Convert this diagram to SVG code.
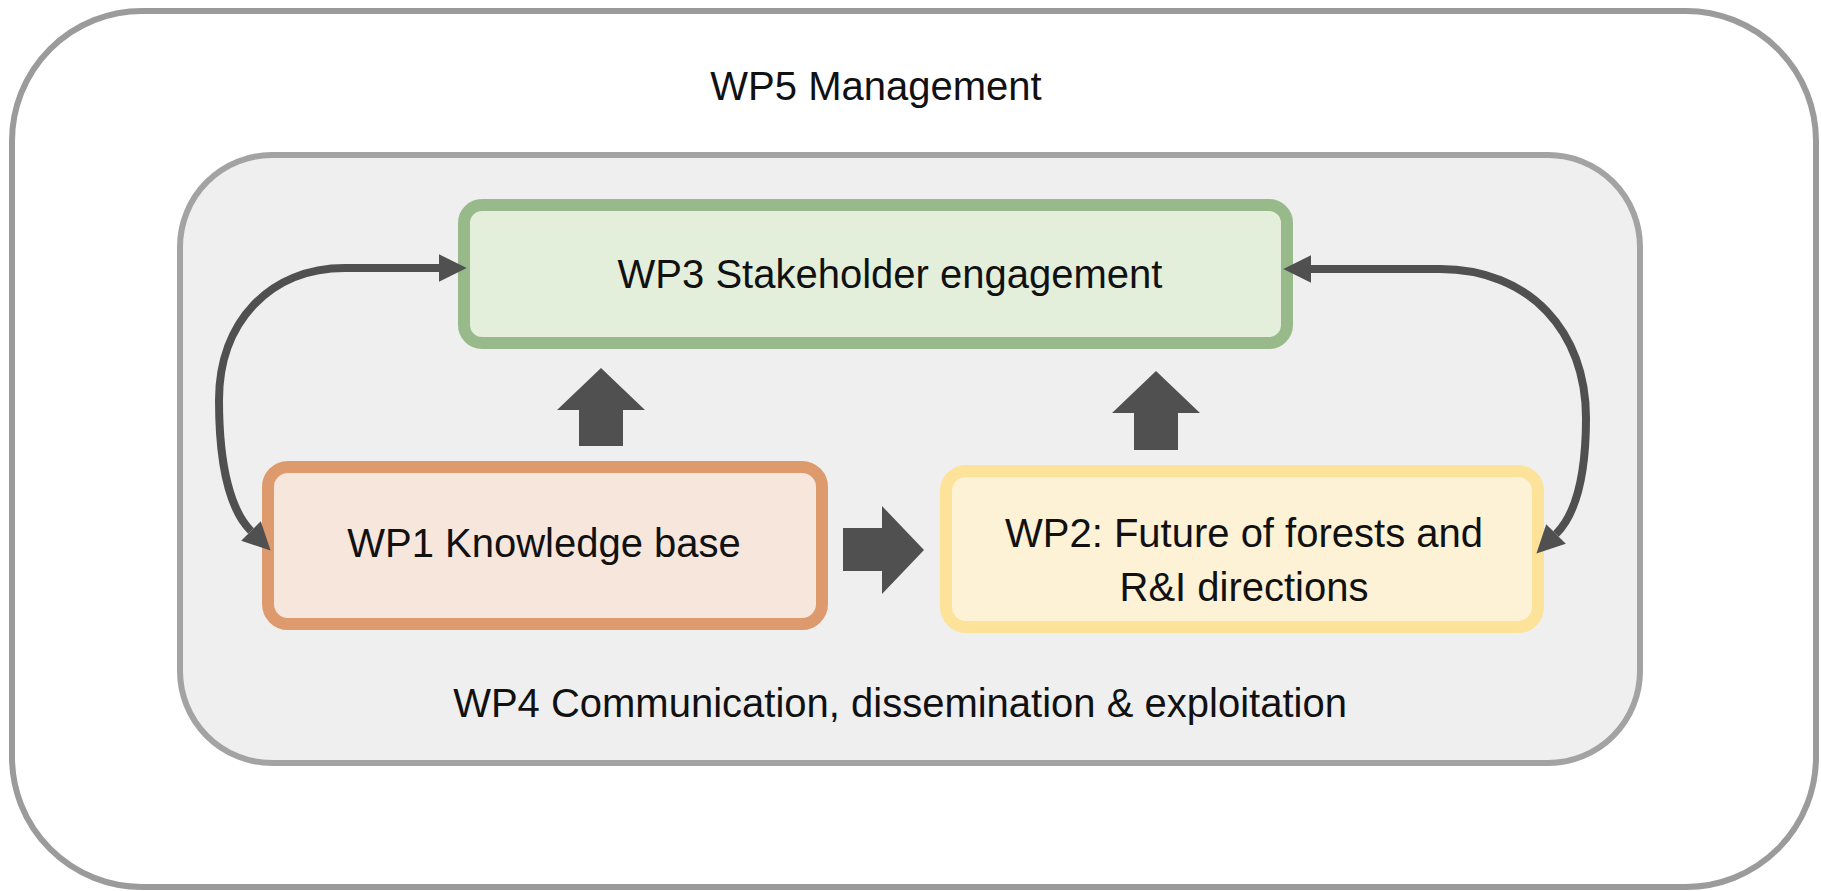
<svg xmlns="http://www.w3.org/2000/svg" width="1821" height="891" viewBox="0 0 1821 891">
  <style>
    .lbl { font-family: "Liberation Sans", Arial, sans-serif; font-size: 40px; fill: #111111; text-anchor: middle; }
    .frame { stroke-width: 6; }
    .box { stroke-width: 12; }
    .curve { fill: none; stroke: #505050; stroke-width: 8; stroke-linecap: butt; }
    .block { fill: #505050; stroke: none; }
  </style>
  <defs>
    <marker id="head" markerUnits="userSpaceOnUse" markerWidth="30" markerHeight="30" viewBox="0 -13 26 26" refX="0" refY="0" orient="auto-start-reverse">
      <path d="M0,-12 L24,0 L0,12 Z" fill="#505050"/>
    </marker>
  </defs>
  <rect x="0" y="0" width="1821" height="891" fill="#ffffff"/>

  <g id="wp5">
    <rect class="frame" x="12" y="11" width="1804" height="876" rx="130" ry="130" fill="#ffffff" stroke="#9b9b9b"/>
    <text class="lbl" x="876" y="100">WP5 Management</text>
  </g>

  <g id="wp4">
    <rect class="frame" x="180" y="155" width="1460" height="608" rx="92" ry="92" fill="#efefef" stroke="#a3a3a3"/>
    <text class="lbl" x="900" y="717">WP4 Communication, dissemination &amp; exploitation</text>
  </g>

  <g id="wp3">
    <rect class="box" x="464" y="205" width="823" height="138" rx="18" ry="18" fill="#e3efdb" stroke="#98b98a"/>
    <text class="lbl" x="890" y="288">WP3 Stakeholder engagement</text>
  </g>

  <g id="wp1">
    <rect class="box" x="268" y="467" width="554" height="157" rx="20" ry="20" fill="#f6e6dc" stroke="#dd9a6c"/>
    <text class="lbl" x="544" y="557">WP1 Knowledge base</text>
  </g>

  <g id="wp2">
    <rect class="box" x="946" y="471" width="592" height="156" rx="20" ry="20" fill="#fdf1d6" stroke="#fde29a"/>
    <text class="lbl" x="1244" y="547">WP2: Future of forests and</text>
    <text class="lbl" x="1244" y="601">R&amp;I directions</text>
  </g>

  <g id="connectors">
    <path class="curve" d="M439 268 L345 268 C270 268 219 322 219 400 C219 470 232 512 251 531" marker-start="url(#head)" marker-end="url(#head)"/>
    <path class="curve" d="M1311 269 L1440 269 C1530 269 1586 332 1586 418 C1586 470 1578 512 1556 534" marker-start="url(#head)" marker-end="url(#head)"/>
    <polygon class="block" points="601,368 645,410 623,410 623,446 579,446 579,410 557,410"/>
    <polygon class="block" points="1156,371 1200,413 1178,413 1178,450 1134,450 1134,413 1112,413"/>
    <polygon class="block" points="924,550 882,594 882,571 843,571 843,528 882,528 882,506"/>
  </g>
</svg>
